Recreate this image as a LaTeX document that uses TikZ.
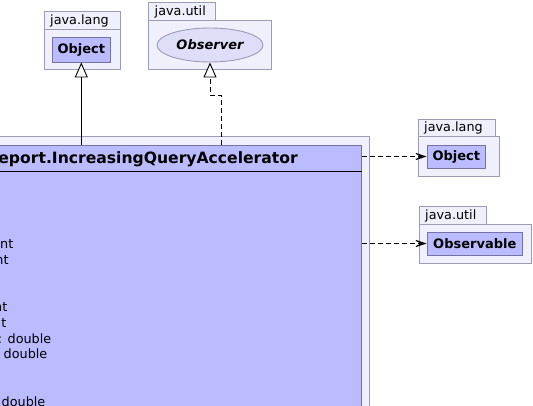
\documentclass[tikz,border=0pt]{standalone}
\usepackage{fontspec}
\setmainfont{DejaVu Sans}
\usetikzlibrary{arrows.meta,shapes.geometric}
\definecolor{pkgfill}{RGB}{240,240,252}
\definecolor{pkgdraw}{RGB}{155,155,180}
\definecolor{clsfill}{RGB}{187,187,255}
\definecolor{clsdraw}{RGB}{115,115,165}
\definecolor{ifcfill}{RGB}{222,222,248}
\tikzset{
  pkgbox/.style={draw=pkgdraw, fill=pkgfill, line width=0.9pt},
  pkglabel/.style={anchor=base west, inner sep=0pt, font=\fontsize{12.8}{14}\selectfont},
  clsbox/.style={draw=clsdraw, fill=clsfill, line width=0.9pt, inner sep=0pt,
                 font=\bfseries\fontsize{13}{14}\selectfont},
  ifcbox/.style={ellipse, draw=pkgdraw, fill=ifcfill, line width=0.9pt, inner sep=0pt,
                 font=\bfseries\itshape\fontsize{13}{14}\selectfont},
  attr/.style={anchor=base east, inner sep=0pt, font=\fontsize{12.8}{14}\selectfont},
  inh/.style={line width=0.9pt, -{Triangle[open, length=15pt, width=13pt, fill=white]}},
  realz/.style={line width=0.9pt, dash pattern=on 5pt off 3pt, -{Triangle[open, length=15pt, width=13pt, fill=white]}},
  dep/.style={line width=0.9pt, dash pattern=on 5pt off 3pt, -{Stealth[open, length=15pt, width=10pt, inset=9pt, line width=0.9pt]}}
}
\begin{document}
\begin{tikzpicture}[x=1pt, y=-1pt]
\useasboundingbox (0,0) rectangle (533,406);
\clip (0,0) rectangle (533,406);
\fill[white] (0,0) rectangle (533,406);

% top-left package java.lang
\draw[pkgbox] (44,11.7) rectangle (120.7,29);
\draw[pkgbox] (44,29) rectangle (120.7,69);
\node[pkglabel] (pl1) at (50,24.3) {java.lang};
\node[clsbox, minimum width=58pt, minimum height=25pt] (obj1) at (81.3,49.5) {Object};

% top package java.util
\draw[pkgbox] (148.7,2) rectangle (215,20);
\draw[pkgbox] (148.7,20) rectangle (271.7,69);
\node[pkglabel] (pl2) at (154.5,15.5) {java.util};
\node[ifcbox, minimum width=106pt, minimum height=34pt] (obs) at (210,45) {Observer};

% right package java.lang
\draw[pkgbox] (418,119) rectangle (495.7,136.7);
\draw[pkgbox] (418,136.7) rectangle (499,176);
\node[pkglabel] (pl3) at (424,132) {java.lang};
\node[clsbox, minimum width=58.7pt, minimum height=23pt] (obj2) at (456.3,156.5) {Object};

% right package java.util
\draw[pkgbox] (419,206.7) rectangle (486.7,224);
\draw[pkgbox] (419,224) rectangle (531.7,263);
\node[pkglabel] (pl4) at (425,219.5) {java.util};
\node[clsbox, minimum width=95.7pt, minimum height=23pt] (obsb) at (474.8,243.5) {Observable};

% main package and class
\draw[pkgbox] (-400,136.7) rectangle (369,720);
\node[clsbox, draw=clsdraw, minimum width=751.5pt, minimum height=560pt] (main) at (-14.25,425) {};
\draw[black, line width=0.8pt] (-390,171.5) -- (361.5,171.5);
\node[anchor=base east, inner sep=0pt, font=\bfseries\fontsize{15.6}{18}\selectfont] (title) at (298,163.5) {eport.IncreasingQueryAccelerator};

\node[attr] (a1) at (13.5,249) {nt};
\node[attr] (a2) at (8.8,264.5) {nt};
\node[attr] (a3) at (7.5,311.5) {nt};
\node[attr] (a4) at (6.5,327) {t};
\node[attr] (a5) at (51.5,343) {: double};
\node[attr] (a6) at (47.5,358.5) {double};
\node[attr] (a7) at (45.5,406.5) {double};

% connectors
\coordinate (m1) at (main.north -| obj1);
\coordinate (m2) at (221,145);
\coordinate (m3) at (main.east |- obj2);
\coordinate (m4) at (main.east |- obsb);
\draw[inh] (m1) -- (obj1.south);
\draw[realz] (m2) -- (221,95) -- (210,95) -- (obs.south);
\draw[dep] (m3) -- (obj2.west);
\draw[dep] (m4) -- (obsb.west);
\end{tikzpicture}
\end{document}
